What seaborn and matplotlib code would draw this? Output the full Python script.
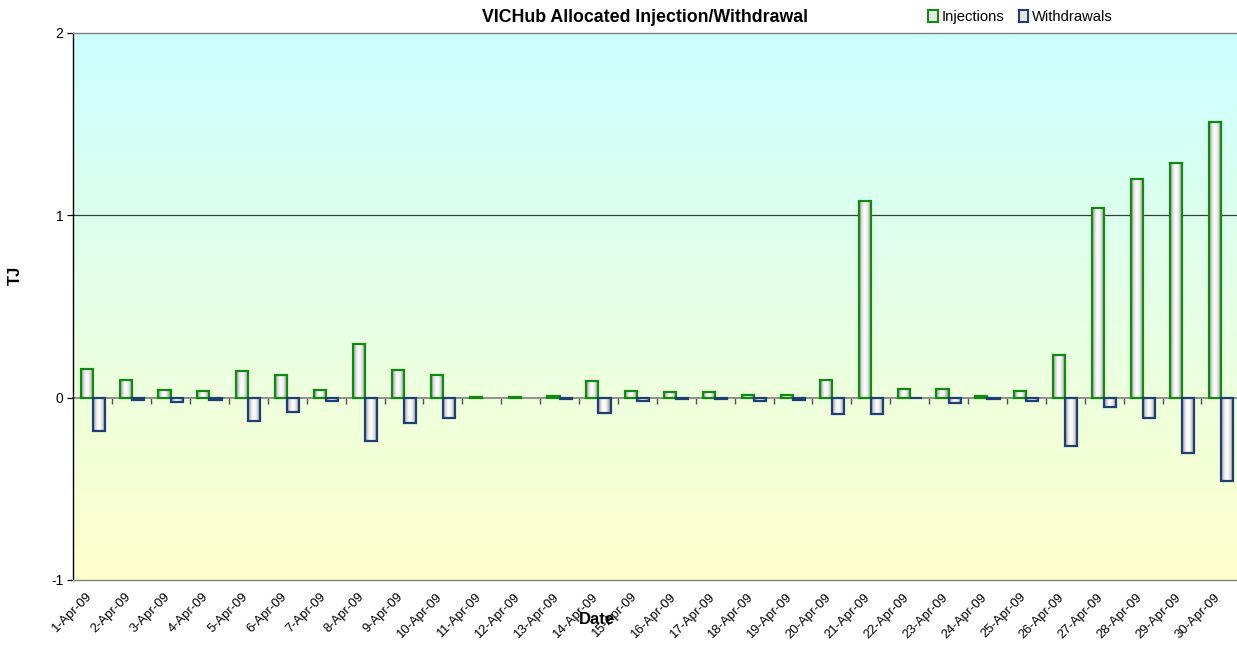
import numpy as np
import pandas as pd
import matplotlib
matplotlib.use("Agg")
import matplotlib.pyplot as plt
import matplotlib.transforms as mtransforms
from matplotlib.patches import Patch
from matplotlib.colors import LinearSegmentedColormap
import seaborn as sns

dates = [f"{d}-Apr-09" for d in range(1, 31)]
injections = [0.155, 0.095, 0.040, 0.035, 0.146, 0.122, 0.040, 0.292, 0.150, 0.126,
              0.003, 0.003, 0.008, 0.090, 0.035, 0.031, 0.030, 0.015, 0.017, 0.097,
              1.078, 0.046, 0.046, 0.009, 0.035, 0.235, 1.038, 1.199, 1.289, 1.510]
withdrawals = [-0.184, -0.014, -0.025, -0.011, -0.129, -0.080, -0.020, -0.239, -0.137, -0.113,
               0.0, 0.0, -0.005, -0.082, -0.016, -0.009, -0.005, -0.020, -0.014, -0.092,
               -0.091, -0.004, -0.029, -0.009, -0.020, -0.268, -0.053, -0.114, -0.306, -0.459]
series_names = ["Injections", "Withdrawals"]
edge_colors = {"Injections": "#118a11", "Withdrawals": "#1f3f73"}
y_ticks = [-1, 0, 1, 2]

df = pd.DataFrame({
    "Date": dates * 2,
    "Series": ["Injections"] * len(dates) + ["Withdrawals"] * len(dates),
    "TJ": injections + withdrawals,
})

sns.set_theme(style="white", rc={"text.color": "black", "axes.labelcolor": "black",
                                 "xtick.color": "black", "ytick.color": "black"})
plt.rcParams["font.family"] = ["Liberation Sans", "DejaVu Sans"]

W, H = 1237, 652
fig = plt.figure(figsize=(W / 100, H / 100), dpi=100)
left, right, top, bottom = 73.3, 1240.3, 33.0, 579.9
ax = fig.add_axes([left / W, 1 - bottom / H, (right - left) / W, (bottom - top) / H])

# background gradient (cyan top -> light yellow bottom)
bg = LinearSegmentedColormap.from_list("bg", ["#FFFFCC", "#CCFFFF"])
grad = np.linspace(0, 1, 256).reshape(-1, 1)
ax.imshow(grad, extent=[0, 1, 0, 1], transform=ax.transAxes, origin="lower",
          aspect="auto", cmap=bg, zorder=0)

sns.barplot(data=df, x="Date", y="TJ", hue="Series", hue_order=series_names,
            order=dates, palette=["white", "white"], width=0.62, ax=ax,
            legend=False, zorder=3)

barcmap = LinearSegmentedColormap.from_list(
    "cyl", ["#8c8c8c", "#d8d8d8", "#ffffff", "#f6f6f6", "#c4c4c4", "#7a7a7a"])
hgrad = np.linspace(0, 1, 64).reshape(1, -1)
for cont, name in zip(ax.containers, series_names):
    for p in cont.patches:
        h = p.get_height()
        if h == 0:
            p.set_visible(False)
            continue
        p.set_facecolor("none")
        p.set_edgecolor(edge_colors[name])
        p.set_linewidth(1.6)
        p.set_zorder(4)
        x0, y0 = p.get_x(), p.get_y()
        im = ax.imshow(hgrad, extent=[x0, x0 + p.get_width(), y0, y0 + h],
                       aspect="auto", cmap=barcmap, zorder=3.5, interpolation="bilinear")
        im.set_clip_path(p)

ax.set_xlim(-0.5, len(dates) - 0.5)
ax.set_ylim(-1, 2)
ax.set_yticks(y_ticks)
ax.set_yticklabels([str(v) for v in y_ticks], fontsize=10)
ax.yaxis.grid(False)
ax.axhline(1, color="#3a3a3a", lw=0.9, zorder=1)

ax.set_xticks(range(len(dates)))
ax.set_xticklabels(dates, rotation=45, ha="right", rotation_mode="anchor", fontsize=9.4)
ax.tick_params(axis="x", length=0, pad=8)
ax.tick_params(axis="y", length=4, width=0.9, color="black", direction="out", pad=3, left=True)
offset = mtransforms.ScaledTranslation(-5 / 72, 0, fig.dpi_scale_trans)
for lab in ax.get_xticklabels():
    lab.set_transform(lab.get_transform() + offset)

ax.set_xlabel("")
ax.set_ylabel("")
for s in ["top", "bottom"]:
    ax.spines[s].set_color("#808080")
    ax.spines[s].set_linewidth(1.0)
ax.spines["left"].set_color("black")
ax.spines["left"].set_linewidth(1.0)
ax.spines["right"].set_visible(False)

# zero axis with category boundary ticks
sec = ax.secondary_xaxis(1 / 3)
sec.set_xticks(np.arange(0.5, len(dates), 1.0))
sec.set_xticklabels([])
sec.tick_params(axis="x", length=4, width=1.0, color="#505050", direction="out")
sec.spines["bottom"].set_color("#808080")
sec.spines["bottom"].set_linewidth(1.2)

fig.text(645 / W, 1 - 18 / H, "VICHub Allocated Injection/Withdrawal",
         ha="center", va="center", fontsize=12.8, fontweight="bold")
fig.text(597 / W, 1 - 620 / H, "Date", ha="center", va="center",
         fontsize=12, fontweight="bold")
fig.text(15 / W, 1 - 275 / H, "TJ", ha="center", va="center", rotation=90,
         fontsize=12, fontweight="bold")

handles = [Patch(facecolor="#e8e8e8", edgecolor=edge_colors[n], linewidth=1.5, label=n)
           for n in series_names]
fig.legend(handles=handles, loc="center left", bbox_to_anchor=(928 / W, 1 - 17 / H),
           ncol=2, frameon=False, fontsize=10.6, handlelength=0.65, handleheight=0.8,
           handletextpad=0.25, columnspacing=1.0, borderaxespad=0, borderpad=0)

fig.savefig("out.png", dpi=100, facecolor="white")
